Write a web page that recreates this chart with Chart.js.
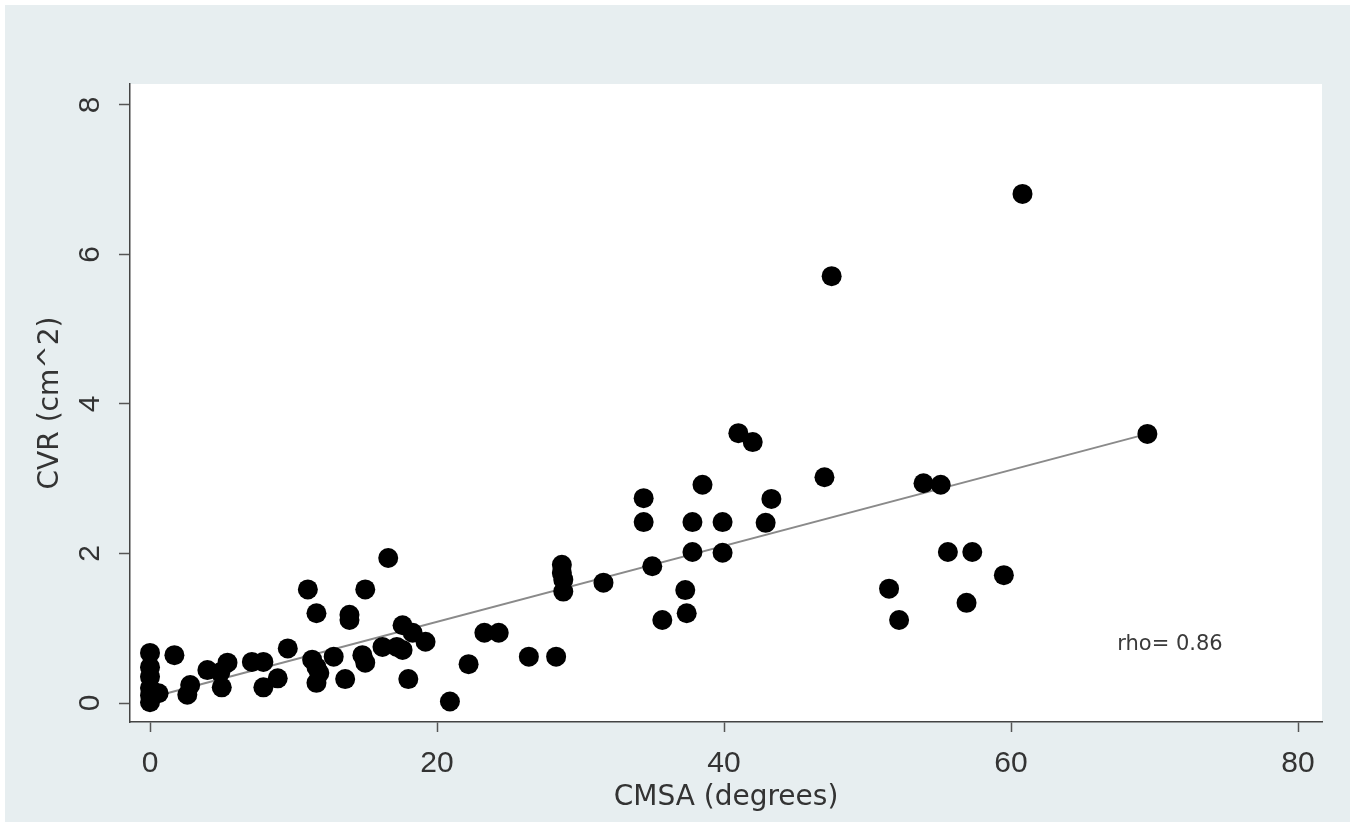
<!DOCTYPE html>
<html>
<head>
<meta charset="utf-8">
<script src="https://cdn.jsdelivr.net/npm/chart.js@4.4.0/dist/chart.umd.min.js"></script>
<style>
  html, body { margin: 0; padding: 0; background: #fff; }
  canvas { display: block; }
</style>
</head>
<body>
<canvas id="myChart" width="1355" height="829"></canvas>
<script>
// CMSA (degrees) vs CVR (cm^2)
var cmsa = [0, 0, 0, 0, 0, 0.6, 0, 1.7, 2.8, 2.6,
    4.0, 4.9, 5.4, 5.0, 7.1, 7.9, 7.9, 8.9, 9.6,
    11.0, 11.6, 11.3, 11.6, 11.8, 11.6, 12.8, 13.6, 13.9, 13.9,
    14.8, 15.0, 15.0, 16.2, 16.6, 17.2, 17.6, 17.6, 18.0, 18.3, 19.2,
    20.9, 22.2, 23.3, 24.3, 26.4, 28.3,
    28.7, 28.7, 28.8, 28.8, 31.6,
    34.4, 34.4, 35.0, 35.7, 37.3, 37.4, 37.8, 37.8, 38.5,
    39.9, 39.9, 41.0, 42.0, 42.9, 43.3,
    47.0, 47.5, 51.5, 52.2, 53.9, 55.1, 55.6, 56.9, 57.3, 59.5,
    60.8, 69.5];
var cvr = [0.67, 0.48, 0.35, 0.2, 0.01, 0.13, 0.1, 0.64, 0.24, 0.11,
    0.44, 0.41, 0.54, 0.21, 0.55, 0.55, 0.21, 0.33, 0.73,
    1.52, 1.2, 0.58, 0.48, 0.4, 0.27, 0.62, 0.32, 1.18, 1.11,
    0.64, 0.54, 1.52, 0.75, 1.94, 0.75, 0.71, 1.04, 0.32, 0.94, 0.82,
    0.02, 0.52, 0.94, 0.94, 0.62, 0.62,
    1.85, 1.74, 1.65, 1.49, 1.61,
    2.74, 2.42, 1.83, 1.11, 1.51, 1.2, 2.42, 2.02, 2.92,
    2.42, 2.01, 3.61, 3.49, 2.41, 2.73,
    3.02, 5.71, 1.53, 1.11, 2.94, 2.92, 2.02, 1.34, 2.02, 1.71,
    6.81, 3.6];

// fitted line ends
var fitX = [0, 69.5];
var fitY = [0.07, 3.6];

var xTicks = [0, 20, 40, 60, 80];
var yTicks = [0, 2, 4, 6, 8];
var rhoLabel = 'rho= 0.86';

var points = cmsa.map(function(v, i) { return { x: v, y: cvr[i] }; });
var fitLine = fitX.map(function(v, i) { return { x: v, y: fitY[i] }; });

var bgPlugin = {
    id: 'bg',
    beforeDraw: function(chart) {
        var ctx = chart.ctx;
        var a = chart.chartArea;
        ctx.save();
        ctx.fillStyle = '#ffffff';
        ctx.fillRect(0, 0, chart.width, chart.height);
        ctx.fillStyle = '#e7eef0';
        ctx.fillRect(5, 5, chart.width - 10, chart.height - 12);
        ctx.fillStyle = '#ffffff';
        ctx.fillRect(a.left, a.top, a.right - a.left, a.bottom - a.top);
        ctx.restore();
    },
    afterDraw: function(chart) {
        var ctx = chart.ctx;
        var x = chart.scales.x.getPixelForValue(67.4);
        var y = chart.scales.y.getPixelForValue(0.78);
        ctx.save();
        ctx.font = '21px "DejaVu Sans"';
        ctx.fillStyle = '#3a3a3a';
        ctx.textBaseline = 'middle';
        ctx.textAlign = 'left';
        ctx.fillText(rhoLabel, x, y);
        ctx.restore();
    }
};

var canvas = document.getElementById('myChart');
var ctx = canvas.getContext('2d');

var myChart = new Chart(ctx, {
    type: 'scatter',
    data: {
        datasets: [{
            data: points,
            backgroundColor: '#000000',
            borderColor: '#000000',
            pointRadius: 10,
            borderWidth: 0
        }, {
            type: 'line',
            data: fitLine,
            borderColor: '#8a8a8a',
            borderWidth: 2,
            pointRadius: 0,
            fill: false
        }]
    },
    options: {
        responsive: false,
        animation: false,
        devicePixelRatio: 1,
        layout: {
            padding: { top: 84, right: 33, bottom: 0, left: 0 }
        },
        plugins: {
            legend: { display: false },
            tooltip: { enabled: false }
        },
        scales: {
            x: {
                type: 'linear',
                min: -1.394,
                max: 81.67,
                afterBuildTicks: function(scale) {
                    scale.ticks = xTicks.map(function(v) { return { value: v }; });
                },
                afterFit: function(scale) { scale.height = 107; },
                grid: { drawOnChartArea: false, tickLength: 10, tickColor: '#555', tickWidth: 1.5 },
                border: { color: '#444', width: 1.5 },
                ticks: {
                    padding: 14,
                    color: '#333',
                    maxRotation: 0,
                    font: { family: 'Liberation Sans', size: 30 }
                },
                title: {
                    display: true,
                    text: 'CMSA (degrees)',
                    color: '#333',
                    padding: { top: 0, bottom: 14 },
                    font: { family: 'DejaVu Sans', size: 28 }
                }
            },
            y: {
                type: 'linear',
                min: -0.254,
                max: 8.28,
                afterBuildTicks: function(scale) {
                    scale.ticks = yTicks.map(function(v) { return { value: v }; });
                },
                afterFit: function(scale) { scale.width = 130; },
                grid: { drawOnChartArea: false, tickLength: 11, tickColor: '#555', tickWidth: 1.5 },
                border: { color: '#444', width: 1.5 },
                ticks: {
                    padding: 20,
                    color: '#333',
                    minRotation: 90,
                    maxRotation: 90,
                    crossAlign: 'center',
                    font: { family: 'Liberation Sans', size: 30 }
                },
                title: {
                    display: true,
                    text: 'CVR (cm^2)',
                    color: '#333',
                    padding: { top: 34, bottom: 0 },
                    font: { family: 'DejaVu Sans', size: 28 }
                }
            }
        }
    },
    plugins: [bgPlugin]
});
</script>
</body>
</html>
